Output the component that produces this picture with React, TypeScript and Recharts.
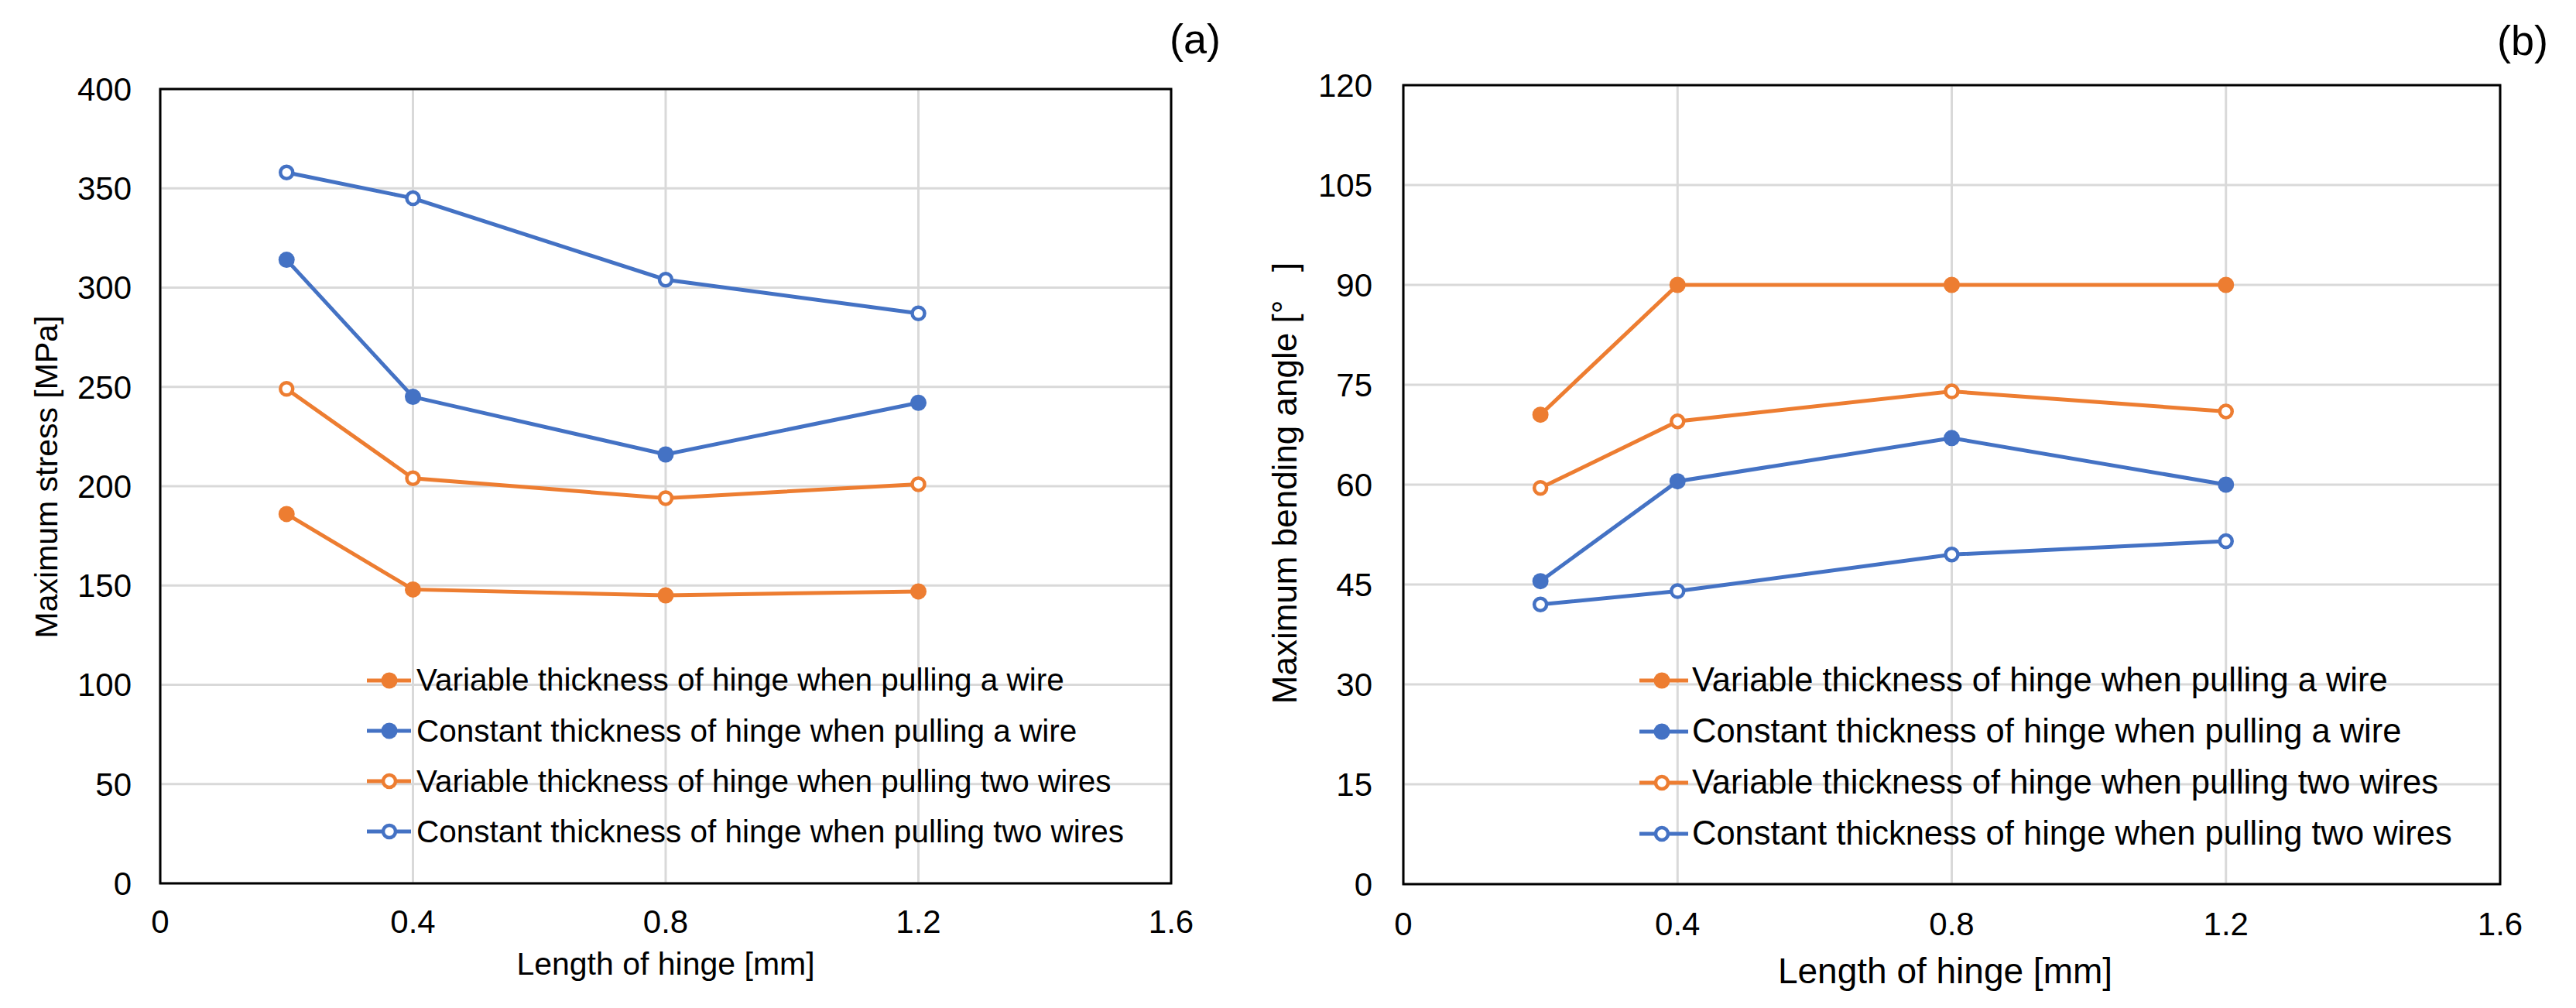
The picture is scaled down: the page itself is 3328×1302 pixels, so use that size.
import React from 'react';
import { LineChart, Line, XAxis, YAxis, CartesianGrid, ReferenceArea, Legend } from 'recharts';

const FONT = '"Liberation Sans", Arial, sans-serif';
const ORANGE = '#ED7D31';
const BLUE = '#4472C4';

// hinge lengths [mm]
const lengths = [0.2, 0.4, 0.8, 1.2];
const xTicks = [0, 0.4, 0.8, 1.2, 1.6];

// panel (a): maximum stress [MPa]
const stressTicks = [0, 50, 100, 150, 200, 250, 300, 350, 400];
const stressVarOne = [186, 148, 145, 147];
const stressConOne = [314, 245, 216, 242];
const stressVarTwo = [249, 204, 194, 201];
const stressConTwo = [358, 345, 304, 287];

// panel (b): maximum bending angle [deg]
const angleTicks = [0, 15, 30, 45, 60, 75, 90, 105, 120];
const angleVarOne = [70.5, 90, 90, 90];
const angleConOne = [45.5, 60.5, 67, 60];
const angleVarTwo = [59.5, 69.5, 74, 71];
const angleConTwo = [42, 44, 49.5, 51.5];

const seriesNames = [
  'Variable thickness of hinge when pulling a wire',
  'Constant thickness of hinge when pulling a wire',
  'Variable thickness of hinge when pulling two wires',
  'Constant thickness of hinge when pulling two wires',
];

const series = [
  { key: 'varOne', name: seriesNames[0], color: ORANGE, hollow: false },
  { key: 'conOne', name: seriesNames[1], color: BLUE, hollow: false },
  { key: 'varTwo', name: seriesNames[2], color: ORANGE, hollow: true },
  { key: 'conTwo', name: seriesNames[3], color: BLUE, hollow: true },
];

function buildRows(a: number[], b: number[], c: number[], d: number[]) {
  return lengths.map((x, i) => ({ x, varOne: a[i], conOne: b[i], varTwo: c[i], conTwo: d[i] }));
}

const stressRows = buildRows(stressVarOne, stressConOne, stressVarTwo, stressConTwo);
const angleRows = buildRows(angleVarOne, angleConOne, angleVarTwo, angleConTwo);

function LegendBox({ iconW, mid, gap, rowH, fontSize }: { iconW: number; mid: number; gap: number; rowH: number; fontSize: number }) {
  return (
    <div style={{ fontFamily: FONT, fontSize, color: '#000' }}>
      {series.map((s) => (
        <div key={s.key} style={{ display: 'flex', alignItems: 'center', height: rowH, whiteSpace: 'nowrap' }}>
          <svg width={iconW} height={30} style={{ flex: 'none' }}>
            <line x1={2} y1={15} x2={iconW - 1} y2={15} stroke={s.color} strokeWidth={5} />
            {s.hollow ? (
              <circle cx={mid} cy={15} r={8} fill="#fff" stroke={s.color} strokeWidth={4.5} />
            ) : (
              <circle cx={mid} cy={15} r={10.5} fill={s.color} />
            )}
          </svg>
          <span style={{ marginLeft: gap, lineHeight: 1 }}>{s.name}</span>
        </div>
      ))}
    </div>
  );
}

function Panel({
  data, yTicks, yMax, yWidth, margin, xTickMargin, yTickMargin, legendPos, legendIcon,
}: {
  data: Record<string, number>[];
  yTicks: number[];
  yMax: number;
  yWidth: number;
  margin: { top: number; right: number; bottom: number; left: number };
  xTickMargin: number;
  yTickMargin: number;
  legendPos: { left: number; top: number };
  legendIcon: { iconW: number; mid: number; gap: number; rowH: number; fontSize: number };
}) {
  const tickStyle = { fontSize: 42, fill: '#000', fontFamily: FONT };
  return (
    <LineChart width={1664} height={1302} data={data} margin={margin} style={{ fontFamily: FONT }}>
      <CartesianGrid stroke="#d9d9d9" strokeWidth={3} />
      <XAxis
        dataKey="x"
        type="number"
        domain={[0, 1.6]}
        ticks={xTicks}
        tickFormatter={(v) => String(v)}
        axisLine={false}
        tickLine={false}
        tickSize={0}
        tickMargin={xTickMargin}
        height={60}
        tick={tickStyle}
      />
      <YAxis
        type="number"
        domain={[0, yMax]}
        ticks={yTicks}
        axisLine={false}
        tickLine={false}
        tickSize={0}
        tickMargin={yTickMargin}
        width={yWidth}
        tick={tickStyle}
      />
      <ReferenceArea x1={0} x2={1.6} y1={0} y2={yMax} fill="none" fillOpacity={0} stroke="#000" strokeWidth={3} />
      {series.map((s) => (
        <Line
          key={s.key}
          type="linear"
          dataKey={s.key}
          name={s.name}
          stroke={s.color}
          strokeWidth={5}
          dot={s.hollow
            ? { r: 8, fill: '#fff', stroke: s.color, strokeWidth: 4.5 }
            : { r: 10.5, fill: s.color, stroke: 'none' }}
          activeDot={false}
          isAnimationActive={false}
        />
      ))}
      <Legend
        layout="vertical"
        verticalAlign="middle"
        align="center"
        wrapperStyle={{ left: legendPos.left, top: legendPos.top, width: 'auto', height: 'auto' }}
        content={() => <LegendBox {...legendIcon} />}
      />
    </LineChart>
  );
}

function Title({ text, x, y, size = 41, rotate = false }: { text: string; x: number; y: number; size?: number; rotate?: boolean }) {
  return (
    <div
      style={{
        position: 'absolute',
        left: x,
        top: y,
        transform: `translate(-50%, -50%)${rotate ? ' rotate(-90deg)' : ''}`,
        fontFamily: FONT,
        fontSize: size,
        lineHeight: 1,
        whiteSpace: 'nowrap',
        color: '#000',
      }}
    >
      {text}
    </div>
  );
}

export default function App() {
  return (
    <div style={{ position: 'absolute', left: 0, top: 0, width: 3328, height: 1302, background: '#fff', overflow: 'hidden' }}>
      <div style={{ position: 'absolute', left: 0, top: 0 }}>
        <Panel
          data={stressRows}
          yTicks={stressTicks}
          yMax={400}
          yWidth={207}
          margin={{ top: 115, right: 151, bottom: 101, left: 0 }}
          xTickMargin={34}
          yTickMargin={37}
          legendPos={{ left: 472, top: 846 }}
          legendIcon={{ iconW: 60, mid: 31, gap: 6, rowH: 65.2, fontSize: 40.5 }}
        />
      </div>
      <div style={{ position: 'absolute', left: 1664, top: 0 }}>
        <Panel
          data={angleRows}
          yTicks={angleTicks}
          yMax={120}
          yWidth={149}
          margin={{ top: 110, right: 98, bottom: 100, left: 0 }}
          xTickMargin={36}
          yTickMargin={40}
          legendPos={{ left: 452, top: 845.6 }}
          legendIcon={{ iconW: 66, mid: 31, gap: 4, rowH: 66, fontSize: 43.5 }}
        />
      </div>
      <Title text="Maximum stress [MPa]" x={60} y={616} rotate />
      <Title text="Length of hinge [mm]" x={860} y={1245} />
      <Title text={'Maximum bending angle [°\u00a0\u00a0\u00a0]'} x={1660} y={624} size={44} rotate />
      <Title text="Length of hinge [mm]" x={2513} y={1254} size={46} />
      <Title text="(a)" x={1544} y={50} size={54} />
      <Title text="(b)" x={3259} y={52} size={54} />
    </div>
  );
}
